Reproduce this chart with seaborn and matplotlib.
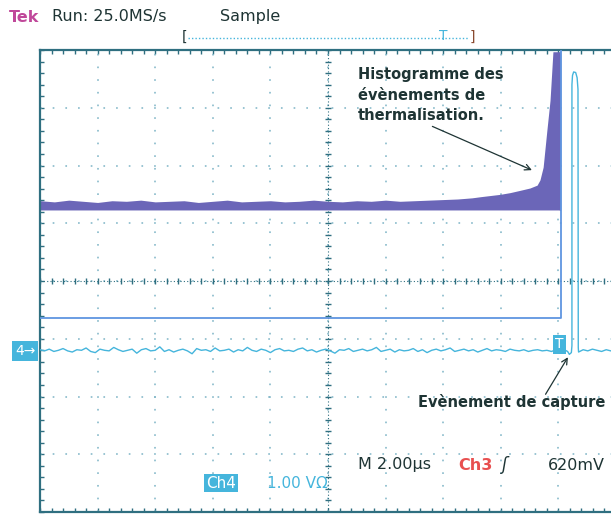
import numpy as np
import pandas as pd
import seaborn as sns
import matplotlib.pyplot as plt
from matplotlib.lines import Line2D

# screen: x = time in us (2.00 us/div, 10 div), y = divisions (8 div)
n_xdiv, n_ydiv = 10, 8
us_per_div = 2.0

# histogram of thermalisation events (purple envelope)
hist_t = [0.0, 0.5, 1.0, 1.5, 2.0, 2.5, 3.0, 3.5, 4.0, 4.5,
          5.0, 5.5, 6.0, 6.5, 7.0, 7.5, 8.0, 8.5, 9.0, 9.5,
          10.0, 10.5, 11.0, 11.5, 12.0, 12.5, 13.0, 13.5, 14.0, 14.5, 15.0,
          15.3, 15.97, 16.32, 16.67, 17.01, 17.26, 17.36, 17.47, 17.60,
          17.71, 17.81, 17.99, 18.06]
hist_top = [1.39, 1.37, 1.40, 1.38, 1.36, 1.39, 1.38, 1.40, 1.37, 1.38,
            1.39, 1.36, 1.38, 1.40, 1.37, 1.38, 1.39, 1.37, 1.38, 1.40,
            1.38, 1.37, 1.39, 1.38, 1.40, 1.38, 1.39, 1.40, 1.41, 1.42, 1.44,
            1.46, 1.50, 1.53, 1.57, 1.61, 1.66, 1.75, 1.97, 2.61,
            3.13, 3.97, 3.97, 3.97]
hist_base = 1.23

# Ch3 gate (blue)
gate_t = [0.0, 18.09, 18.09]
gate_v = [-0.64, -0.64, 4.2]

# Ch4 trace: noise samples then capture pulse
ch4_dt = 0.16
ch4_noise = [-1.19, -1.21, -1.18, -1.22, -1.20, -1.17, -1.21, -1.23, -1.19, -1.20,
             -1.16, -1.22, -1.24, -1.18, -1.20, -1.21, -1.15, -1.19, -1.22, -1.20,
             -1.18, -1.25, -1.19, -1.17, -1.21, -1.20, -1.14, -1.22, -1.19, -1.23,
             -1.20, -1.18, -1.21, -1.26, -1.17, -1.20, -1.19, -1.22, -1.16, -1.21,
             -1.20, -1.18, -1.23, -1.19, -1.21, -1.15, -1.20, -1.22, -1.18, -1.20,
             -1.24, -1.19, -1.17, -1.21, -1.20, -1.22, -1.18, -1.16, -1.21, -1.19,
             -1.23, -1.20, -1.18, -1.21, -1.25, -1.19, -1.20, -1.17, -1.22, -1.20,
             -1.18, -1.21, -1.19, -1.15, -1.22, -1.20, -1.18, -1.23, -1.19, -1.21,
             -1.20, -1.17, -1.22, -1.19, -1.24, -1.20, -1.18, -1.21, -1.19, -1.16,
             -1.22, -1.20, -1.18, -1.21, -1.19, -1.23, -1.20, -1.17, -1.21, -1.19,
             -1.20, -1.22, -1.18, -1.20, -1.21, -1.19, -1.22, -1.20, -1.19, -1.21,
             -1.20, -1.22, -1.19, -1.21, -1.20]
pulse_t = [18.32, 18.38, 18.45, 18.47, 18.47, 18.49, 18.53, 18.60, 18.65, 18.68, 18.69, 18.70]
pulse_v = [-1.22, -1.27, -1.24, -1.12, 3.40, 3.56, 3.62, 3.61, 3.52, 3.32, -1.15, -1.23]
post_t = [18.86, 19.02, 19.18, 19.34, 19.50, 19.66, 19.82, 19.98]
post_v = [-1.19, -1.21, -1.18, -1.20, -1.22, -1.19, -1.21, -1.20]

teal = "#2f6f80"
cyan = "#45b5dc"
gate_blue = "#5f95e0"
purple = "#6b66b8"
dark = "#1e3434"

sns.set_theme(style="white")
plt.rcParams["font.family"] = ["DejaVu Sans"]

W, H = 611, 514
fig = plt.figure(figsize=(W / 100, H / 100), dpi=100)
ax = fig.add_axes([40 / W, 2 / H, 576 / W, 462 / H])

def fx(px):
    return px / W

def fy(py):
    return 1 - py / H

# histogram
ax.fill_between(hist_t, hist_base, hist_top, color=purple, lw=0, zorder=2)
ax.plot([hist_t[-1], hist_t[-1]], [hist_base, hist_top[-1]], color=purple, lw=1, zorder=2)

# Ch3 gate
gate = pd.DataFrame({"t": gate_t, "v": gate_v})
sns.lineplot(data=gate, x="t", y="v", sort=False, estimator=None,
             color=gate_blue, lw=1.3, ax=ax, zorder=3)

# Ch4 trace
noise_t = np.arange(len(ch4_noise)) * ch4_dt
ch4 = pd.DataFrame({"t": np.concatenate([noise_t, pulse_t, post_t]),
                    "v": np.concatenate([ch4_noise, pulse_v, post_v])})
sns.lineplot(data=ch4, x="t", y="v", sort=False, estimator=None,
             color=cyan, lw=1.0, ax=ax, zorder=4)

xmax = n_xdiv * us_per_div
ax.set_xlim(0, xmax)
ax.set_ylim(-n_ydiv / 2, n_ydiv / 2)

# graticule: dotted grid every division
dots = (0, (1.1, 7.2))
for i in range(1, n_xdiv):
    ax.axvline(i * us_per_div, color="#7db4c6", lw=1.1, ls=dots, zorder=1)
for j in range(-3, 4):
    ax.axhline(j, color="#7db4c6", lw=1.1, ls=dots, zorder=1)

# centre crosshair with 0.2 div ticks
xt = np.arange(0, xmax + 0.01, us_per_div / 5)
yt = np.arange(-n_ydiv / 2, n_ydiv / 2 + 0.01, 0.2)
ax.axhline(0, color=teal, lw=0.8, ls=(0, (1, 2)), zorder=1)
ax.axvline(xmax / 2, color=teal, lw=0.8, ls=(0, (1, 2)), zorder=1)
ax.plot(xt, np.zeros_like(xt), ls="", marker="|", ms=5, mew=1, color=teal, zorder=1)
ax.plot(np.full_like(yt, xmax / 2), yt, ls="", marker="_", ms=5, mew=1, color=teal, zorder=1)

# frame
for s in ax.spines.values():
    s.set_color(teal)
    s.set_linewidth(1.6)
ax.set_xticks(xt)
ax.set_yticks(yt)
ax.tick_params(direction="in", length=3, width=1, color=teal,
               top=True, bottom=True, left=True, right=False,
               labelbottom=False, labelleft=False)
ax.set_xlabel("")
ax.set_ylabel("")
ax.grid(False)

# header
fig.text(fx(9), fy(17), "Tek", color="#c0489a", fontsize=11.5, weight="bold", va="center")
fig.text(fx(52), fy(17), "Run: 25.0MS/s", color=dark, fontsize=11.5, va="center")
fig.text(fx(220), fy(17), "Sample", color=dark, fontsize=11.5, va="center")
fig.text(fx(182), fy(37), "[", color=dark, fontsize=10, va="center")
fig.add_artist(Line2D([fx(188), fx(469)], [fy(38), fy(38)], color=cyan, lw=1, ls=(0, (1, 1.5))))
fig.text(fx(443), fy(36), "T", color=cyan, fontsize=10, ha="center", va="center")
fig.text(fx(470), fy(37), "]", color="#8a4a30", fontsize=10, va="center")

# channel marker and trigger marker
fig.text(fx(15), fy(351), "4\u2192", color="white", fontsize=10, va="center",
         bbox=dict(boxstyle="square,pad=0.2", fc=cyan, ec="none"))
fig.text(fx(559.5), fy(344), "T", color="white", fontsize=10, ha="center", va="center",
         bbox=dict(boxstyle="square,pad=0.18", fc=cyan, ec="none"), zorder=5)

# readouts
fig.text(fx(358), fy(465), "M 2.00\u00b5s", color=dark, fontsize=11.5, va="center")
fig.text(fx(458), fy(465), "Ch3", color="#e85050", fontsize=11.5, weight="bold", va="center")
fig.text(fx(502), fy(465), "\u0283", color=dark, fontsize=12, style="italic", va="center")
fig.text(fx(548), fy(465), "620mV", color=dark, fontsize=11.5, va="center")
fig.text(fx(206), fy(483), "Ch4", color="white", fontsize=11, va="center",
         bbox=dict(boxstyle="square,pad=0.12", fc=cyan, ec="none"))
fig.text(fx(267), fy(483), "1.00 V\u03a9", color=cyan, fontsize=11, va="center")

# annotations
ax.annotate("Histogramme des\névènements de\nthermalisation.",
            xy=(17.08, 1.92), xytext=(11.04, 3.70), textcoords="data",
            ha="left", va="top", fontsize=10.5, weight="bold", color=dark,
            linespacing=1.45,
            arrowprops=dict(arrowstyle="->", color=dark, lw=0.9,
                            shrinkA=0, shrinkB=0, relpos=(0.46, 0.0)))
ax.annotate("Evènement de capture", xy=(18.33, -1.32), xytext=(13.13, -2.10),
            textcoords="data", ha="left", va="center", fontsize=10.5,
            weight="bold", color=dark,
            arrowprops=dict(arrowstyle="->", color=dark, lw=0.9,
                            shrinkA=0, shrinkB=0, relpos=(0.68, 1.0),
                            patchA=None))

fig.savefig("out.png", dpi=100)
